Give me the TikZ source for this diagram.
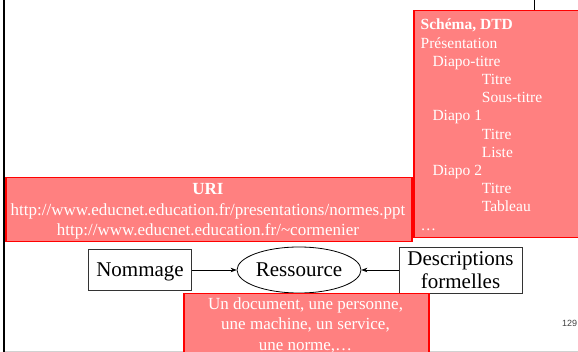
\documentclass[tikz,border=0pt]{standalone}
\usepackage{fontspec}
\setmainfont{Liberation Serif}
\newfontfamily\numfont{Liberation Sans}
\usetikzlibrary{arrows.meta,shapes.geometric}
\definecolor{boxfill}{RGB}{255,128,128}
\definecolor{boxline}{RGB}{255,0,0}
\begin{document}
\begin{tikzpicture}[x=1pt,y=-1pt,
  redbox/.style={draw=boxline, fill=boxfill, line width=1.5pt, inner sep=0pt, anchor=north west},
  wtxt/.style={text=white, inner sep=0pt, anchor=base west},
  ctxt/.style={text=white, inner sep=0pt, anchor=base},
  schemafont/.style={font=\fontsize{15.5}{18}\selectfont},
  urifont/.style={font=\fontsize{17}{20}\selectfont},
  bigfont/.style={font=\fontsize{21}{23}\selectfont},
  plainbox/.style={draw=black!80, line width=0.8pt, inner sep=0pt, bigfont},
  conn/.style={-{Stealth[length=6pt,width=4.5pt]}, line width=0.6pt}]
\useasboundingbox (0,0) rectangle (578,352);
\clip (0,0) rectangle (578,352);

% frame decorations
\draw[line width=2.5pt] (3.8,0) -- (3.8,352);
\draw[black!18, line width=1pt] (5,351.2) -- (578,351.2);

% Schema box
\node[redbox, minimum width=190, minimum height=227] (schema) at (413,10) {};
\coordinate (topend) at (534,0);
\draw[line width=0.8pt] (topend) -- (topend |- schema.north);
\node[wtxt, schemafont] (s1) at (420.5,30.0) {\bfseries Schéma, DTD};
\node[wtxt, schemafont] (s2) at (420.5,48.2) {Présentation};
\node[wtxt, schemafont] (s3) at (432.3,66.4) {Diapo-titre};
\node[wtxt, schemafont] (s4) at (481.7,84.6) {Titre};
\node[wtxt, schemafont] (s5) at (481.7,102.8) {Sous-titre};
\node[wtxt, schemafont] (s6) at (432.3,121.0) {Diapo 1};
\node[wtxt, schemafont] (s7) at (481.7,139.2) {Titre};
\node[wtxt, schemafont] (s8) at (481.7,157.4) {Liste};
\node[wtxt, schemafont] (s9) at (432.3,175.6) {Diapo 2};
\node[wtxt, schemafont] (s10) at (481.7,193.8) {Titre};
\node[wtxt, schemafont] (s11) at (481.7,212.0) {Tableau};
\node[wtxt, schemafont] (s12) at (420.5,230.2) {…};

% URI box
\node[redbox, minimum width=406, minimum height=64] (uri) at (5,177) {};
\node[ctxt, urifont] (u1) at (208,195.0) {\bfseries URI};
\node[ctxt, urifont] (u2) at (208,215.5) {http://www.educnet.education.fr/presentations/normes.ppt};
\node[ctxt, urifont] (u3) at (208,235.5) {http://www.educnet.education.fr/\textasciitilde cormenier};

% main row
\node[plainbox, minimum width=103, minimum height=41, text depth=0pt] (nom) at (140,270) {Nommage};
\node[ellipse, draw, line width=0.8pt, inner sep=0pt, minimum width=124, minimum height=46, bigfont, text depth=0pt] (res) at (299,270) {Ressource};
\node[plainbox, minimum width=123, minimum height=46] (desc) at (460.5,270) {};
\node[inner sep=0pt, anchor=base, bigfont] (d1) at (460.5,265.7) {Descriptions};
\node[inner sep=0pt, anchor=base, bigfont] (d2) at (460.5,288.3) {formelles};
\draw[conn] (nom) -- (res);
\draw[conn] (desc) -- (res);

% bottom box
\node[redbox, minimum width=245, minimum height=80] (ex) at (183,293) {};
\node[ctxt, urifont] (e1) at (305.5,309.3) {Un document, une personne,};
\node[ctxt, urifont] (e2) at (305.5,330.0) {une machine, un service,};
\node[ctxt, urifont] (e3) at (305.5,350.7) {une norme,…};

% page number
\node[font=\numfont\fontsize{9}{10}\selectfont, text=black!75, inner sep=0pt] (pg) at (569.5,323) {129};
\end{tikzpicture}
\end{document}
